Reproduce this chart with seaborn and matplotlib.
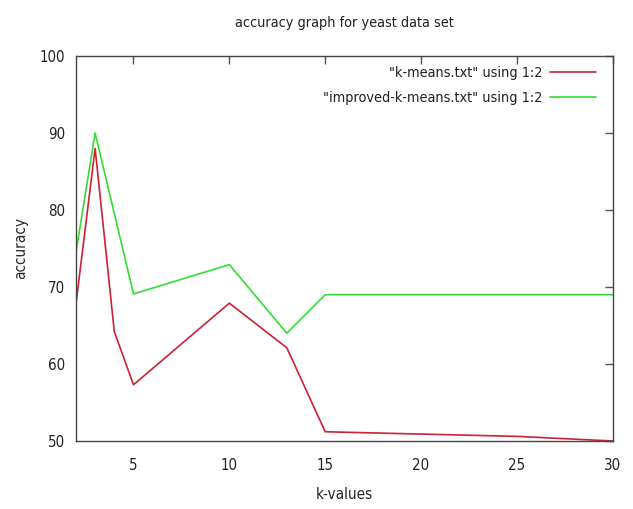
import matplotlib
matplotlib.use("Agg")
import matplotlib.pyplot as plt
import seaborn as sns
import pandas as pd
from matplotlib import font_manager as fm

k_values_kmeans = [2, 3, 4, 5, 10, 13, 15, 20, 25, 30]
acc_kmeans = [67.8, 88.0, 64.2, 57.3, 67.9, 62.1, 51.2, 50.9, 50.6, 50.0]
k_values_improved = [2, 3, 5, 10, 13, 15, 20, 25, 30]
acc_improved = [74.5, 90.0, 69.1, 72.9, 64.0, 69.0, 69.0, 69.0, 69.0]
label_kmeans = '"k-means.txt" using 1:2'
label_improved = '"improved-k-means.txt" using 1:2'

df = pd.concat([
    pd.DataFrame({"k": k_values_kmeans, "acc": acc_kmeans, "series": label_kmeans}),
    pd.DataFrame({"k": k_values_improved, "acc": acc_improved, "series": label_improved}),
])

sns.set_style("white")
cond = [f for f in fm.fontManager.ttflist
        if "DejaVuSansCondensed" in f.fname.replace("-", "").replace(" ", "")
        and "Bold" not in f.fname and "Oblique" not in f.fname]
if cond:
    plt.rcParams['font.family'] = [cond[0].name, 'DejaVu Sans']
    plt.rcParams['font.stretch'] = 'condensed'
else:
    plt.rcParams['font.family'] = ['DejaVu Sans']
plt.rcParams['text.color'] = '#222222'

fig = plt.figure(figsize=(6.33, 5.09), dpi=100)
ax = fig.add_axes([0.120, 0.1336, 0.848, 0.7564])

sns.lineplot(data=df, x="k", y="acc", hue="series", sort=False,
             palette={label_kmeans: "#cc2233", label_improved: "#33dd33"},
             linewidth=1.2, ax=ax, estimator=None)

ax.set_xlim(2, 30)
ax.set_ylim(50, 100)
ax.set_xticks([5, 10, 15, 20, 25, 30])
ax.set_yticks([50, 60, 70, 80, 90, 100])
ax.tick_params(direction="in", top=True, right=True, length=6, width=1,
               labelsize=10.8, color="#555555", labelcolor="#222222")
ax.tick_params(axis="x", pad=12)
ax.tick_params(axis="y", pad=8)
for s in ax.spines.values():
    s.set_color("#444444")
    s.set_linewidth(1.0)

ax.set_xlabel("k-values", fontsize=11, labelpad=10)
ax.set_ylabel("accuracy", fontsize=11, labelpad=8)
ax.set_title("accuracy graph for yeast data set", fontsize=10.4, pad=21)

leg = ax.legend(loc="upper right", frameon=False, markerfirst=False,
                fontsize=10.4, handlelength=3.2, borderaxespad=0.3,
                labelspacing=0.75, handletextpad=0.5,
                bbox_to_anchor=(0.988, 1.0))
for t in leg.get_texts():
    t.set_ha("right")
leg._legend_box.align = "right"

fig.savefig("out.png", dpi=100)
